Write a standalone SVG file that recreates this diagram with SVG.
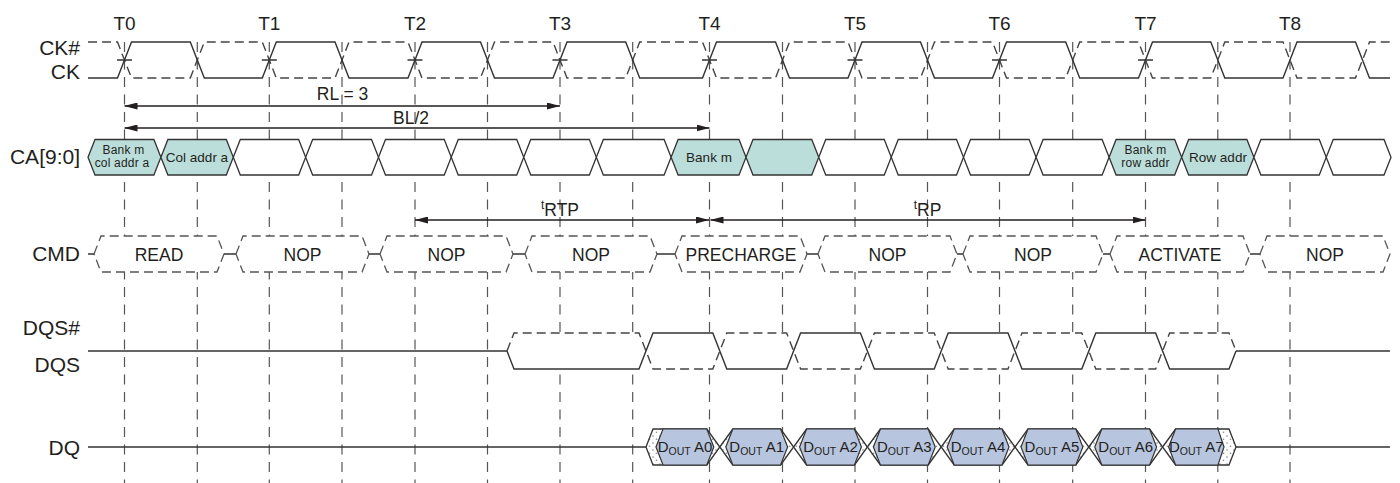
<svg xmlns="http://www.w3.org/2000/svg" width="1400" height="483" viewBox="0 0 1400 483">
<style>
text{font-family:"Liberation Sans",Arial,sans-serif;fill:#231f20}
.lbl{font-size:21px;text-anchor:end}
.tl{font-size:19px;text-anchor:middle}
.cmdt{font-size:17.5px;text-anchor:middle}
.cat{font-size:13.5px;text-anchor:middle}
.cat2{font-size:12px;text-anchor:middle;letter-spacing:0.2px}
.dqt{font-size:15px;text-anchor:middle}
.arl{font-size:17.5px;text-anchor:middle}
.grid line{stroke:#555;stroke-width:1.2;stroke-dasharray:10 7.5}
.sol{fill:none;stroke:#333;stroke-width:1.4}
.dsh{fill:none;stroke:#444;stroke-width:1.4;stroke-dasharray:9 5}
.ca{stroke:#333;stroke-width:1.3;fill:#fff}
.teal{fill:#bcdedb}
.cmd{stroke:#555;stroke-width:1.3;stroke-dasharray:9 5;fill:#fff}
.outer{fill:url(#dots);stroke:#333;stroke-width:1.3}
.blue{fill:#b8c5de;stroke:#333;stroke-width:1.2}
.arr{stroke:#231f20;stroke-width:1.3;fill:none;marker-start:url(#ah);marker-end:url(#ah)}
</style>
<defs>
<marker id="ah" viewBox="0 0 13 7" refX="13" refY="3.5" markerWidth="13" markerHeight="7" markerUnits="userSpaceOnUse" orient="auto-start-reverse"><path d="M0,0 L13,3.5 L0,7 z" fill="#231f20"/></marker>
<pattern id="dots" width="7" height="7" patternUnits="userSpaceOnUse"><rect width="7" height="7" fill="#fff"/><circle cx="2" cy="2" r="0.8" fill="#888"/><circle cx="5.5" cy="5.2" r="0.8" fill="#888"/></pattern>
</defs>
<rect width="1400" height="483" fill="#fff"/>

<g id="time-labels">
<text class="tl" x="124.5" y="30">T0</text>
<text class="tl" x="269.3" y="30">T1</text>
<text class="tl" x="415" y="30">T2</text>
<text class="tl" x="560" y="30">T3</text>
<text class="tl" x="709.5" y="30">T4</text>
<text class="tl" x="855" y="30">T5</text>
<text class="tl" x="999.5" y="30">T6</text>
<text class="tl" x="1145.5" y="30">T7</text>
<text class="tl" x="1290" y="30">T8</text>
</g>

<g id="row-labels">
<text class="lbl" x="80" y="55">CK#</text>
<text class="lbl" x="80" y="79">CK</text>
<text class="lbl" x="80" y="164">CA[9:0]</text>
<text class="lbl" x="80" y="261">CMD</text>
<text class="lbl" x="80" y="335">DQS#</text>
<text class="lbl" x="80" y="372">DQS</text>
<text class="lbl" x="80" y="455">DQ</text>
</g>

<g id="grid" class="grid">
<line x1="124.5" y1="42" x2="124.5" y2="483"/>
<line x1="197.3" y1="42" x2="197.3" y2="483"/>
<line x1="269.3" y1="42" x2="269.3" y2="483"/>
<line x1="342" y1="42" x2="342" y2="483"/>
<line x1="415" y1="42" x2="415" y2="483"/>
<line x1="487.5" y1="42" x2="487.5" y2="483"/>
<line x1="560" y1="42" x2="560" y2="483"/>
<line x1="632.7" y1="42" x2="632.7" y2="483"/>
<line x1="709.5" y1="42" x2="709.5" y2="483"/>
<line x1="782.5" y1="42" x2="782.5" y2="483"/>
<line x1="855" y1="42" x2="855" y2="483"/>
<line x1="927.5" y1="42" x2="927.5" y2="483"/>
<line x1="999.5" y1="42" x2="999.5" y2="483"/>
<line x1="1072.7" y1="42" x2="1072.7" y2="483"/>
<line x1="1145.5" y1="42" x2="1145.5" y2="483"/>
<line x1="1217.8" y1="42" x2="1217.8" y2="483"/>
<line x1="1290" y1="42" x2="1290" y2="483"/>
</g>

<g id="clock">
<path class="dsh" d="M88,42 L117.5,42 L131.5,78 L190.3,78 L204.3,42 L262.3,42 L276.3,78 L335,78 L349,42 L408,42 L422,78 L480.5,78 L494.5,42 L553,42 L567,78 L625.7,78 L639.7,42 L702.5,42 L716.5,78 L775.5,78 L789.5,42 L848,42 L862,78 L920.5,78 L934.5,42 L992.5,42 L1006.5,78 L1065.7,78 L1079.7,42 L1138.5,42 L1152.5,78 L1210.8,78 L1224.8,42 L1283,42 L1297,78 L1355.5,78 L1369.5,42 L1390,42"/>
<path class="sol" d="M88,78 L117.5,78 L131.5,42 L190.3,42 L204.3,78 L262.3,78 L276.3,42 L335,42 L349,78 L408,78 L422,42 L480.5,42 L494.5,78 L553,78 L567,42 L625.7,42 L639.7,78 L702.5,78 L716.5,42 L775.5,42 L789.5,78 L848,78 L862,42 L920.5,42 L934.5,78 L992.5,78 L1006.5,42 L1065.7,42 L1079.7,78 L1138.5,78 L1152.5,42 L1210.8,42 L1224.8,78 L1283,78 L1297,42 L1355.5,42 L1369.5,78 L1390,78"/>
<path class="sol" d="M117,60 H132 M261.8,60 H276.8 M407.5,60 H422.5 M552.5,60 H567.5 M702,60 H717 M847.5,60 H862.5 M992,60 H1007 M1138,60 H1153"/>
</g>

<g id="ca-bus">
<g id="ca-0"><polygon class="ca teal" points="88,157.25 95,139.5 153.9,139.5 160.9,157.25 153.9,175 95,175"/><text class="cat2"><tspan x="123.5" y="153.5">Bank m</tspan><tspan x="122" y="167">col addr a</tspan></text></g>
<g id="ca-1"><polygon class="ca teal" points="160.9,157.25 167.9,139.5 226.3,139.5 233.3,157.25 226.3,175 167.9,175"/><text class="cat" x="197" y="162">Col addr a</text></g>
<g id="ca-2"><polygon class="ca" points="233.3,157.25 240.3,139.5 298.65,139.5 305.65,157.25 298.65,175 240.3,175"/></g>
<g id="ca-3"><polygon class="ca" points="305.65,157.25 312.65,139.5 371.5,139.5 378.5,157.25 371.5,175 312.65,175"/></g>
<g id="ca-4"><polygon class="ca" points="378.5,157.25 385.5,139.5 444.25,139.5 451.25,157.25 444.25,175 385.5,175"/></g>
<g id="ca-5"><polygon class="ca" points="451.25,157.25 458.25,139.5 516.75,139.5 523.75,157.25 516.75,175 458.25,175"/></g>
<g id="ca-6"><polygon class="ca" points="523.75,157.25 530.75,139.5 589.35,139.5 596.35,157.25 589.35,175 530.75,175"/></g>
<g id="ca-7"><polygon class="ca" points="596.35,157.25 603.35,139.5 664.1,139.5 671.1,157.25 664.1,175 603.35,175"/></g>
<g id="ca-8"><polygon class="ca teal" points="671.1,157.25 678.1,139.5 739,139.5 746,157.25 739,175 678.1,175"/><text class="cat" x="709" y="162">Bank m</text></g>
<g id="ca-9"><polygon class="ca teal" points="746,157.25 753,139.5 811.75,139.5 818.75,157.25 811.75,175 753,175"/></g>
<g id="ca-10"><polygon class="ca" points="818.75,157.25 825.75,139.5 884.25,139.5 891.25,157.25 884.25,175 825.75,175"/></g>
<g id="ca-11"><polygon class="ca" points="891.25,157.25 898.25,139.5 956.5,139.5 963.5,157.25 956.5,175 898.25,175"/></g>
<g id="ca-12"><polygon class="ca" points="963.5,157.25 970.5,139.5 1029.1,139.5 1036.1,157.25 1029.1,175 970.5,175"/></g>
<g id="ca-13"><polygon class="ca" points="1036.1,157.25 1043.1,139.5 1102.1,139.5 1109.1,157.25 1102.1,175 1043.1,175"/></g>
<g id="ca-14"><polygon class="ca teal" points="1109.1,157.25 1116.1,139.5 1174.65,139.5 1181.65,157.25 1174.65,175 1116.1,175"/><text class="cat2"><tspan x="1145.5" y="153.5">Bank m</tspan><tspan x="1145.5" y="167">row addr</tspan></text></g>
<g id="ca-15"><polygon class="ca teal" points="1181.65,157.25 1188.65,139.5 1246.9,139.5 1253.9,157.25 1246.9,175 1188.65,175"/><text class="cat" x="1218" y="162">Row addr</text></g>
<g id="ca-16"><polygon class="ca" points="1253.9,157.25 1260.9,139.5 1319.25,139.5 1326.25,157.25 1319.25,175 1260.9,175"/></g>
<g id="ca-17"><polygon class="ca" points="1326.25,157.25 1333.25,139.5 1384,139.5 1391,157.25 1384,175 1333.25,175"/></g>
</g>

<g id="cmd-bus">
<path class="sol" d="M88,254 H94 M224,254 H236 M369,254 H380 M513,254 H525 M657,254 H675 M807,254 H818 M957,254 H963 M1103,254 H1110 M1250,254 H1260"/>
<g id="cmd-read"><polygon class="cmd teal" points="94,254 101,236 217,236 224,254 217,272 101,272"/><text class="cmdt" x="159" y="260.5">READ</text></g>
<g id="cmd-nop1"><polygon class="cmd" points="236,254 243,236 362,236 369,254 362,272 243,272"/><text class="cmdt" x="302.5" y="260.5">NOP</text></g>
<g id="cmd-nop2"><polygon class="cmd" points="380,254 387,236 506,236 513,254 506,272 387,272"/><text class="cmdt" x="446.5" y="260.5">NOP</text></g>
<g id="cmd-nop3"><polygon class="cmd" points="525,254 532,236 650,236 657,254 650,272 532,272"/><text class="cmdt" x="591" y="260.5">NOP</text></g>
<g id="cmd-precharge"><polygon class="cmd teal" points="675,254 682,236 800,236 807,254 800,272 682,272"/><text class="cmdt" x="741" y="260.5">PRECHARGE</text></g>
<g id="cmd-nop4"><polygon class="cmd" points="818,254 825,236 950,236 957,254 950,272 825,272"/><text class="cmdt" x="887.5" y="260.5">NOP</text></g>
<g id="cmd-nop5"><polygon class="cmd" points="963,254 970,236 1096,236 1103,254 1096,272 970,272"/><text class="cmdt" x="1033" y="260.5">NOP</text></g>
<g id="cmd-activate"><polygon class="cmd teal" points="1110,254 1117,236 1243,236 1250,254 1243,272 1117,272"/><text class="cmdt" x="1180" y="260.5">ACTIVATE</text></g>
<g id="cmd-nop6"><polygon class="cmd" points="1260,254 1267,236 1383,236 1390,254 1383,272 1267,272"/><text class="cmdt" x="1325" y="260.5">NOP</text></g>
</g>

<g id="dqs">
<polygon points="507,351 514,333 1229,333 1236,351 1229,369 514,369" fill="#fff"/>
<path class="sol" d="M88,351 H507 M1236,351 H1390"/>
<path class="dsh" d="M507,351 L514,333 L639,333 L653,369 L712.8,369 L726.8,333 L786.6,333 L800.6,369 L860.4,369 L874.4,333 L934.2,333 L948.2,369 L1008,369 L1022,333 L1081.8,333 L1095.8,369 L1155.6,369 L1169.6,333 L1229,333 L1236,351"/>
<path class="sol" d="M507,351 L514,369 L639,369 L653,333 L712.8,333 L726.8,369 L786.6,369 L800.6,333 L860.4,333 L874.4,369 L934.2,369 L948.2,333 L1008,333 L1022,369 L1081.8,369 L1095.8,333 L1155.6,333 L1169.6,369 L1229,369 L1236,351"/>
</g>

<g id="dq">
<path class="sol" d="M88,447 H646 M1236,447 H1390"/>
<g id="dq-a0"><polygon class="outer" points="646,447 653,429 706.8,429 719.8,447 706.8,465 653,465"/><polygon class="blue" points="656,447 663,429 706.8,429 713.8,447 706.8,465 663,465"/><text class="dqt" x="685" y="452">D<tspan font-size="10.5" dy="3">OUT</tspan><tspan dy="-3"> A0</tspan></text></g>
<g id="dq-a1"><polygon class="outer" points="719.8,447 732.8,429 780.6,429 793.6,447 780.6,465 732.8,465"/><polygon class="blue" points="725.8,447 732.8,429 780.6,429 787.6,447 780.6,465 732.8,465"/><text class="dqt" x="756.7" y="452">D<tspan font-size="10.5" dy="3">OUT</tspan><tspan dy="-3"> A1</tspan></text></g>
<g id="dq-a2"><polygon class="outer" points="793.6,447 806.6,429 854.4,429 867.4,447 854.4,465 806.6,465"/><polygon class="blue" points="799.6,447 806.6,429 854.4,429 861.4,447 854.4,465 806.6,465"/><text class="dqt" x="830.5" y="452">D<tspan font-size="10.5" dy="3">OUT</tspan><tspan dy="-3"> A2</tspan></text></g>
<g id="dq-a3"><polygon class="outer" points="867.4,447 880.4,429 928.2,429 941.2,447 928.2,465 880.4,465"/><polygon class="blue" points="873.4,447 880.4,429 928.2,429 935.2,447 928.2,465 880.4,465"/><text class="dqt" x="904.3" y="452">D<tspan font-size="10.5" dy="3">OUT</tspan><tspan dy="-3"> A3</tspan></text></g>
<g id="dq-a4"><polygon class="outer" points="941.2,447 954.2,429 1002,429 1015,447 1002,465 954.2,465"/><polygon class="blue" points="947.2,447 954.2,429 1002,429 1009,447 1002,465 954.2,465"/><text class="dqt" x="978.1" y="452">D<tspan font-size="10.5" dy="3">OUT</tspan><tspan dy="-3"> A4</tspan></text></g>
<g id="dq-a5"><polygon class="outer" points="1015,447 1028,429 1075.8,429 1088.8,447 1075.8,465 1028,465"/><polygon class="blue" points="1021,447 1028,429 1075.8,429 1082.8,447 1075.8,465 1028,465"/><text class="dqt" x="1051.9" y="452">D<tspan font-size="10.5" dy="3">OUT</tspan><tspan dy="-3"> A5</tspan></text></g>
<g id="dq-a6"><polygon class="outer" points="1088.8,447 1101.8,429 1149.6,429 1162.6,447 1149.6,465 1101.8,465"/><polygon class="blue" points="1094.8,447 1101.8,429 1149.6,429 1156.6,447 1149.6,465 1101.8,465"/><text class="dqt" x="1125.7" y="452">D<tspan font-size="10.5" dy="3">OUT</tspan><tspan dy="-3"> A6</tspan></text></g>
<g id="dq-a7"><polygon class="outer" points="1162.6,447 1175.6,429 1229,429 1236,447 1229,465 1175.6,465"/><polygon class="blue" points="1168.6,447 1175.6,429 1218,429 1224,447 1218,465 1175.6,465"/><text class="dqt" x="1196.3" y="452">D<tspan font-size="10.5" dy="3">OUT</tspan><tspan dy="-3"> A7</tspan></text></g>
</g>

<g id="connectors">
<g id="rl"><line class="arr" x1="124.5" y1="106" x2="560" y2="106"/><text class="arl" x="342.5" y="100">RL = 3</text></g>
<g id="bl"><line class="arr" x1="124.5" y1="128" x2="709.5" y2="128"/><text class="arl" x="411" y="123.5">BL/2</text></g>
<g id="trtp"><line class="arr" x1="415" y1="220" x2="709" y2="220"/><text class="arl" x="560" y="216"><tspan font-size="12" dy="-7">t</tspan><tspan dy="7">RTP</tspan></text></g>
<g id="trp"><line class="arr" x1="710.5" y1="220" x2="1145.5" y2="220"/><text class="arl" x="927.5" y="216"><tspan font-size="12" dy="-7">t</tspan><tspan dy="7">RP</tspan></text></g>
</g>
</svg>
